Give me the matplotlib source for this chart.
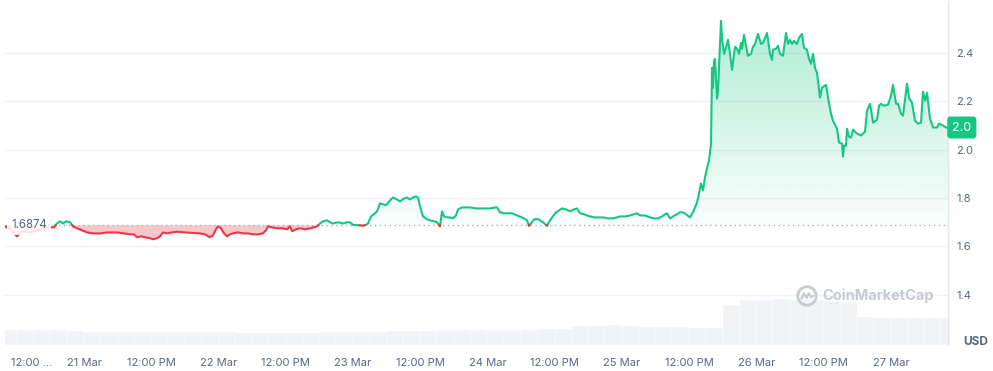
import numpy as np
import matplotlib
matplotlib.use("Agg")
import matplotlib.pyplot as plt
from matplotlib.path import Path
from matplotlib.transforms import blended_transform_factory, ScaledTranslation
from matplotlib.patches import Circle

plt.rcParams['font.family'] = ['Inter', 'DejaVu Sans']

# hours since 20 Mar 00:00
hours = [
    9.90, 10.79, 12.04, 12.94, 14.36, 15.79, 17.04, 17.93, 18.65, 19.18,
    19.72, 20.25, 20.79, 21.50, 22.04, 22.75, 23.64, 24.54, 25.61, 26.86,
    28.28, 29.89, 31.14, 32.21, 32.92, 33.46, 34.17, 34.89, 35.78, 36.31,
    37.03, 37.56, 38.10, 38.81, 39.70, 40.60, 42.02, 43.45, 44.70, 45.59,
    46.48, 47.02, 47.56, 47.91, 48.45, 48.98, 49.52, 50.05, 50.59, 51.48,
    52.37, 53.27, 54.16, 55.05, 55.94, 56.48, 56.83, 57.55, 58.44, 59.33,
    60.23, 60.76, 61.12, 61.83, 62.55, 63.44, 64.33, 65.04, 65.58, 66.11,
    66.65, 67.36, 67.90, 68.43, 69.33, 70.22, 70.93, 71.47, 72.00, 72.90,
    73.79, 74.32, 74.68, 75.22, 75.93, 76.29, 76.82, 77.36, 77.89, 78.61,
    79.14, 79.85, 80.39, 81.10, 81.64, 82.17, 82.71, 83.25, 83.60, 83.96,
    84.49, 85.21, 85.74, 86.46, 86.99, 87.53, 87.89, 88.24, 88.78, 89.31,
    89.85, 90.38, 90.74, 91.45, 92.17, 92.88, 94.13, 95.20, 96.45, 97.34,
    97.70, 98.24, 98.95, 99.66, 100.38, 101.27, 102.16, 103.05, 103.41, 103.77,
    104.30, 104.84, 105.37, 105.91, 106.62, 107.16, 107.69, 108.23, 108.76, 109.30,
    110.01, 110.73, 111.44, 111.98, 112.52, 113.23, 113.76, 114.30, 115.01, 115.73,
    116.62, 117.51, 118.40, 119.12, 119.65, 120.54, 121.43, 122.15, 122.68, 123.22,
    124.11, 125.00, 125.72, 126.43, 127.14, 127.68, 128.04, 128.57, 129.11, 129.82,
    130.36, 130.89, 131.43, 132.14, 132.68, 133.39, 133.57, 134.10, 134.46, 134.82,
    135.17, 135.53, 135.89, 136.07, 136.25, 136.42, 136.60, 136.96, 137.14, 137.67,
    137.85, 138.21, 138.56, 138.92, 139.28, 139.64, 140.17, 140.53, 140.88, 141.24,
    141.42, 141.78, 142.13, 142.49, 143.03, 143.38, 143.74, 144.28, 144.81, 145.17,
    145.88, 146.42, 146.77, 146.95, 147.49, 147.84, 148.20, 148.74, 149.27, 149.63,
    149.98, 150.34, 150.70, 151.23, 151.59, 152.12, 152.48, 153.02, 153.38, 153.73,
    154.09, 154.45, 154.80, 155.34, 155.69, 156.41, 156.77, 157.30, 157.66, 158.37,
    158.73, 159.27, 159.44, 159.62, 159.98, 160.16, 160.51, 160.87, 161.23, 161.94,
    162.66, 163.37, 163.73, 164.26, 164.62, 164.80, 165.51, 165.87, 166.22, 166.76,
    167.47, 168.01, 168.37, 168.90, 169.26, 169.80, 170.15, 170.87, 171.22, 171.76,
    172.29, 172.83, 173.37, 173.72, 174.08, 174.43, 174.97, 175.51, 176.22, 176.58,
    177.29, 177.83, 178.18,
]
prices = [
    1.683, 1.671, 1.642, 1.663, 1.658, 1.667, 1.675, 1.679, 1.679, 1.695,
    1.704, 1.695, 1.704, 1.700, 1.683, 1.675, 1.667, 1.658, 1.654, 1.654,
    1.658, 1.658, 1.654, 1.650, 1.650, 1.638, 1.642, 1.638, 1.634, 1.630,
    1.634, 1.642, 1.658, 1.654, 1.658, 1.661, 1.658, 1.656, 1.654, 1.650,
    1.638, 1.646, 1.671, 1.683, 1.675, 1.654, 1.642, 1.650, 1.654, 1.658,
    1.654, 1.654, 1.650, 1.650, 1.654, 1.667, 1.683, 1.679, 1.675, 1.675,
    1.671, 1.683, 1.663, 1.671, 1.675, 1.671, 1.675, 1.679, 1.683, 1.695,
    1.704, 1.708, 1.700, 1.695, 1.700, 1.695, 1.700, 1.700, 1.689, 1.688,
    1.686, 1.689, 1.695, 1.724, 1.737, 1.745, 1.778, 1.774, 1.770, 1.790,
    1.802, 1.794, 1.786, 1.798, 1.802, 1.794, 1.802, 1.807, 1.802, 1.765,
    1.724, 1.712, 1.708, 1.704, 1.700, 1.683, 1.745, 1.724, 1.720, 1.720,
    1.716, 1.728, 1.753, 1.761, 1.761, 1.761, 1.757, 1.757, 1.757, 1.761,
    1.761, 1.741, 1.737, 1.737, 1.737, 1.728, 1.720, 1.708, 1.686, 1.695,
    1.712, 1.714, 1.708, 1.700, 1.686, 1.708, 1.724, 1.741, 1.749, 1.757,
    1.753, 1.745, 1.753, 1.757, 1.737, 1.733, 1.728, 1.724, 1.720, 1.720,
    1.720, 1.716, 1.716, 1.720, 1.724, 1.724, 1.728, 1.733, 1.737, 1.728,
    1.728, 1.720, 1.716, 1.716, 1.724, 1.733, 1.737, 1.716, 1.724, 1.733,
    1.741, 1.741, 1.733, 1.720, 1.741, 1.782, 1.798, 1.860, 1.831, 1.885,
    1.922, 1.955, 2.025, 2.337, 2.255, 2.366, 2.374, 2.210, 2.243, 2.531,
    2.461, 2.395, 2.420, 2.453, 2.395, 2.329, 2.424, 2.416, 2.395, 2.440,
    2.416, 2.473, 2.428, 2.387, 2.395, 2.424, 2.436, 2.477, 2.436, 2.440,
    2.481, 2.395, 2.370, 2.412, 2.416, 2.428, 2.395, 2.387, 2.481, 2.436,
    2.453, 2.436, 2.449, 2.436, 2.461, 2.477, 2.420, 2.412, 2.374, 2.354,
    2.395, 2.337, 2.317, 2.214, 2.255, 2.267, 2.214, 2.148, 2.119, 2.086,
    2.029, 2.025, 1.971, 2.016, 2.016, 2.086, 2.053, 2.049, 2.082, 2.066,
    2.058, 2.074, 2.160, 2.189, 2.140, 2.111, 2.123, 2.181, 2.189, 2.181,
    2.185, 2.222, 2.267, 2.189, 2.189, 2.148, 2.140, 2.272, 2.214, 2.193,
    2.119, 2.107, 2.111, 2.239, 2.202, 2.235, 2.128, 2.091, 2.091, 2.107,
    2.099, 2.091, 2.091,
]
open_price = 1.6874

# volume, 3-hour buckets (relative units)
vol_hours = list(range(9, 178, 3))
vol_values = [
    15, 15, 15, 15, 14, 13, 13, 13, 13, 13,
    13, 13, 13, 13, 12, 12, 12, 12, 12, 13,
    13, 13, 13, 14, 14, 14, 15, 15, 15, 15,
    15, 15, 16, 16, 19, 19, 20, 19, 18, 18,
    18, 17, 17, 40, 45, 45, 46, 45, 45, 44,
    43, 28, 27, 27, 27, 27, 27,
]

x_ticks = [12, 24, 36, 48, 60, 72, 84, 96, 108, 120, 132, 144, 156, 168]
x_labels = ['12:00 ...', '21 Mar', '12:00 PM', '22 Mar', '12:00 PM', '23 Mar',
            '12:00 PM', '24 Mar', '12:00 PM', '25 Mar', '12:00 PM', '26 Mar',
            '12:00 PM', '27 Mar']
y_ticks = [1.4, 1.6, 1.8, 2.0, 2.2, 2.4]

GREEN = '#16c784'
RED = '#ea3943'
TXT = '#58667e'


def split_at_base(t, p, base):
    tt, pp = [t[0]], [p[0]]
    for i in range(1, len(t)):
        a, b = p[i - 1] - base, p[i] - base
        if a * b < 0:
            f = a / (a - b)
            tt.append(t[i - 1] + f * (t[i] - t[i - 1]))
            pp.append(base)
        tt.append(t[i])
        pp.append(p[i])
    return np.array(tt), np.array(pp)


W, H = 993, 371
fig = plt.figure(figsize=(W / 100, H / 100), dpi=100)
pos = [5 / W, 26 / H, 943 / W, 344 / H]

vax = fig.add_axes(pos)
ax = fig.add_axes(pos)
vax.set_zorder(0)
ax.set_zorder(1)
ax.patch.set_visible(False)

xlim = (9.90, 178.18)

# volume bars
vax.bar(vol_hours, vol_values, width=3, align='edge', color='#f1f3f6',
        edgecolor='white', linewidth=0.3)
vax.set_xlim(*xlim)
vax.set_ylim(0, 344)
vax.axis('off')

t, p = split_at_base(np.array(hours), np.array(prices), open_price)

# fills
green_poly = ax.fill_between(t, p, open_price, where=p >= open_price,
                             color='none', lw=0)
paths = green_poly.get_paths()
if paths:
    clip = Path.make_compound_path(*paths)
    grad = np.zeros((256, 1, 4))
    grad[..., 0] = 22 / 255
    grad[..., 1] = 199 / 255
    grad[..., 2] = 132 / 255
    grad[:, 0, 3] = np.linspace(0.34, 0.02, 256)
    im = ax.imshow(grad, aspect='auto', origin='upper',
                   extent=(xlim[0], xlim[1], open_price, max(prices)),
                   zorder=1)
    im.set_clip_path(clip, transform=ax.transData)
ax.fill_between(t, p, open_price, where=p <= open_price,
                color=RED, alpha=0.28, lw=0, zorder=1)

green = np.where(p >= open_price, p, np.nan)
red = np.where(p <= open_price, p, np.nan)
ax.plot(t, green, color=GREEN, lw=1.5, zorder=3, solid_joinstyle='round')
ax.plot(t, red, color=RED, lw=1.5, zorder=3, solid_joinstyle='round')

ax.axhline(open_price, color='#a6b0c3', lw=1, ls=(0, (1, 2.5)), zorder=2)

ax.set_xlim(*xlim)
ax.set_ylim(1.1934, 2.6131)
ax.set_yticks(y_ticks)
ax.set_yticklabels([f'{v:.1f}' for v in y_ticks])
ax.yaxis.tick_right()
ax.set_xticks(x_ticks)
ax.set_xticklabels(x_labels)
ax.tick_params(axis='both', length=0, labelsize=8, colors=TXT)
ax.tick_params(axis='x', pad=9)
ax.tick_params(axis='y', pad=6)
first = ax.get_xticklabels()[0]
first.set_ha('left')
first.set_transform(first.get_transform() +
                    ScaledTranslation(-6 / 100, 0, fig.dpi_scale_trans))

ax.grid(axis='y', color='#eff2f5', lw=1)
ax.set_axisbelow(True)
for s in ['top', 'left', 'bottom']:
    ax.spines[s].set_visible(False)
ax.spines['right'].set_color('#e3e6ea')
ax.spines['right'].set_linewidth(1)

# open price label
ax.text(14.2, open_price, '1.6874', ha='center', va='center', fontsize=8.3,
        color=TXT, zorder=5,
        bbox=dict(boxstyle='square,pad=0.35', fc='white', ec='none', alpha=0.85))

# last price tag
tr = blended_transform_factory(ax.transAxes, ax.transData)
ax.text(1.0045, prices[-1], '2.0', transform=tr, ha='left', va='center',
        fontsize=9, color='white', zorder=6, clip_on=False,
        bbox=dict(boxstyle='round,pad=0.4,rounding_size=0.25', fc=GREEN, ec='none'))

fig.text(976 / W, 1 - 342 / H, 'USD', ha='center', va='center', fontsize=8.5,
         fontweight='bold', color=TXT)

# watermark
fig.text(822 / W, 1 - 296 / H, 'CoinMarketCap', ha='left', va='center',
         fontsize=10.5, fontweight='bold', color='#c5cad3', zorder=4)
lax = fig.add_axes([796 / W, 1 - 307 / H, 22 / W, 22 / H])
lax.set_zorder(4)
lax.add_patch(Circle((0.5, 0.5), 0.42, fill=False, ec='#c5cad3', lw=2))
lax.plot([0.25, 0.36, 0.48, 0.58, 0.68, 0.78], [0.38, 0.62, 0.42, 0.62, 0.44, 0.5],
         color='#c5cad3', lw=1.6, solid_capstyle='round')
lax.set_xlim(0, 1)
lax.set_ylim(0, 1)
lax.axis('off')

fig.savefig('out.png', dpi=100)
